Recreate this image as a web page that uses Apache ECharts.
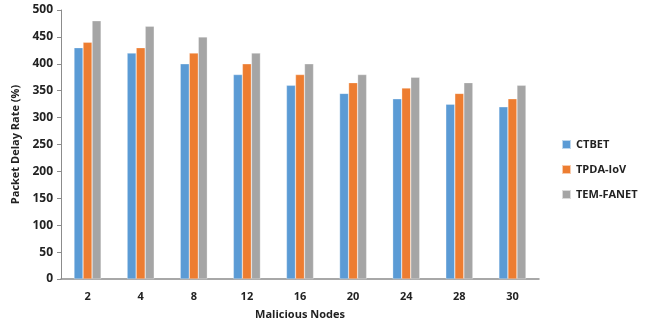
<!DOCTYPE html>
<html><head><meta charset="utf-8">
<script src="https://cdn.jsdelivr.net/npm/echarts@6/dist/echarts.min.js"></script>
<style>html,body{margin:0;padding:0;background:#fff}#c{width:649px;height:326px}</style>
</head><body><div id="c"></div>
<script>
const categories = ['2','4','8','12','16','20','24','28','30'];
const ctbet = [430,420,400,380,360,345,335,325,320];
const tpda = [440,430,420,400,380,365,355,345,335];
const temFanet = [480,470,450,420,400,380,375,365,360];
const yTicks = {min:0,max:500,interval:50};

const font = "'Open Sans', 'Liberation Sans', sans-serif";
const chart = echarts.init(document.getElementById('c'));
const barStyle = c => ({color:c, borderColor:'rgba(255,255,255,0.6)', borderWidth:0.5});
chart.setOption({
  animation:false,
  grid:{left:61,right:110,top:10,bottom:47},
  legend:{orient:'vertical',left:556,top:134,itemWidth:9,itemHeight:9,itemGap:14,icon:'rect',
    textStyle:{fontFamily:font,fontWeight:'bold',fontSize:11,color:'#222'}},
  xAxis:{type:'category',data:categories,
    name:'Malicious Nodes',nameLocation:'middle',nameGap:30,
    nameTextStyle:{fontFamily:font,fontWeight:'bold',fontSize:11,color:'#222'},
    axisLine:{lineStyle:{color:'#8c8c8c',width:1.5}},axisTick:{show:false},
    axisLabel:{fontFamily:font,fontWeight:'bold',fontSize:11,color:'#222',margin:12}},
  yAxis:{type:'value',min:yTicks.min,max:yTicks.max,interval:yTicks.interval,
    name:'Packet Delay Rate (%)',nameLocation:'middle',nameGap:40,
    nameTextStyle:{fontFamily:font,fontWeight:'bold',fontSize:11,color:'#222'},
    axisLine:{show:true,lineStyle:{color:'#8c8c8c'}},axisTick:{show:true,length:4,lineStyle:{color:'#8c8c8c'}},
    splitLine:{show:false},
    axisLabel:{fontFamily:font,fontWeight:'bold',fontSize:12,color:'#222',margin:8}},
  series:[
    {name:'CTBET',type:'bar',data:ctbet,itemStyle:barStyle('#5b9bd5'),barGap:'0%',barCategoryGap:'49%'},
    {name:'TPDA-IoV',type:'bar',data:tpda,itemStyle:barStyle('#ed7d31'),barGap:'0%',barCategoryGap:'49%'},
    {name:'TEM-FANET',type:'bar',data:temFanet,itemStyle:barStyle('#a5a5a5'),barGap:'0%',barCategoryGap:'49%'}
  ]
});
</script></body></html>
